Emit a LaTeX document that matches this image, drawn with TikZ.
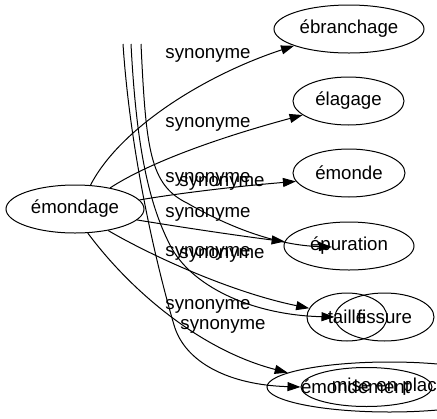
\documentclass[tikz,border=0pt]{standalone}
\usepackage{fontspec}
\setmainfont{Liberation Sans}
\usetikzlibrary{shapes.geometric,arrows.meta,calc}
\begin{document}
\begin{tikzpicture}[x=0.75pt,y=-0.75pt,
  font=\fontsize{14}{16}\selectfont,
  nd/.style={draw, ellipse, line width=0.75pt, inner sep=0pt, minimum height=36pt},
  lbl/.style={inner sep=0pt},
  edge/.style={line width=0.75pt, -{Triangle[length=9.75pt,width=6.75pt]}}]
\useasboundingbox (0,0) rectangle (437,419);

% nodes
\node[nd, minimum width=103.5pt] (emondage) at (75,209) {émondage};
\node[nd, minimum width=112.5pt] (ebranchage) at (349,29) {ébranchage};
\node[nd, minimum width=83.25pt] (elagage) at (348.5,101) {élagage};
\node[nd, minimum width=84pt] (emonde) at (349,173) {émonde};
\node[nd, minimum width=97.5pt] (epuration) at (349,246) {épuration};
\node[nd, minimum width=60pt] (taille) at (347,317) {taille};
\node[nd, minimum width=74.25pt] (fissure) at (384.5,317) {fissure};
\node[nd, minimum width=183.75pt, minimum height=37.5pt] (emondement) at (389.5,387) {};
\node[nd, minimum width=98.25pt, minimum height=29.25pt] (miseenplace) at (366.5,387) {};
\node[lbl] (temondement) at (355.5,387) {émondement};
\node[lbl] (tmise) at (389.5,387) {mise en place};

% free ends at the top
\coordinate (s1) at (123,44);
\coordinate (s2) at (131,44);
\coordinate (s3) at (141,44);

% edges from émondage
\draw[edge] (emondage.57) .. controls (120,128) and (205,75) .. (ebranchage.197);
\draw[edge] (emondage.31) .. controls (145,165) and (210,140) .. (elagage.197);
\draw[edge] (emondage.8) .. controls (180,193) and (240,186) .. (emonde.189);
\draw[edge] (emondage.-10) .. controls (180,227) and (240,236) .. (epuration.176);
\draw[edge] (emondage.-33) .. controls (150,255) and (230,292) .. (taille.167);
\draw[edge] (emondage.-62) .. controls (130,290) and (200,350) .. (emondement.172);

% edges from the top
\draw[edge] (s3) .. controls (146,150) and (150,185) .. (187,203)
  .. controls (220,222) and (270,245) .. ($(epuration.center)+(-17,1)$);
\draw[edge] (s2) .. controls (136,140) and (147,200) .. (170,245)
  .. controls (190,285) and (250,315) .. (fissure.west);
\draw[edge] (s1) .. controls (130,150) and (155,260) .. (174,325)
  .. controls (185,363) and (230,385) .. (miseenplace.west);

% labels
\node[lbl] (l1) at (208,55) {synonyme};
\node[lbl] (l2) at (208,124) {synonyme};
\node[lbl] (l3) at (208,179) {synonyme};
\node[lbl] (l4) at (222,183) {synonyme};
\node[lbl] (l5) at (208,214) {synonyme};
\node[lbl] (l6) at (208,253) {synonyme};
\node[lbl] (l7) at (222,255) {synonyme};
\node[lbl] (l8) at (208,306) {synonyme};
\node[lbl] (l9) at (223,326) {synonyme};
\end{tikzpicture}
\end{document}
